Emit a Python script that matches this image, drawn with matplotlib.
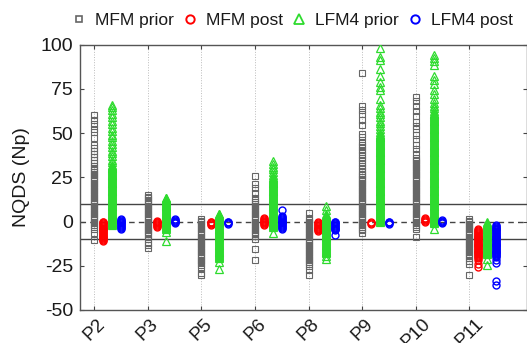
import matplotlib
matplotlib.use("Agg")
import matplotlib.pyplot as plt
from matplotlib.lines import Line2D

plt.rcParams['font.family'] = ['Liberation Sans', 'DejaVu Sans']

# ---------------- data ----------------
stations = ["P2", "P3", "P5", "P6", "P8", "P9", "P10", "P11"]
series_names = ["MFM prior", "MFM post", "LFM4 prior", "LFM4 post"]

# NQDS ensemble values (Np) per station
mfm_prior_P2 = [60, 57.5, 55, 52, 50.5, 47, 43, 41.5, 40, 38, 36.5, 35, 33, 31.5, 30, 29, 28, 27, 26, 25, 24, 23,
                22, 21, 20, 19, 18, 17, 16, 15, 14, 13, 12, 11, 10, 9, 8, 7, 6, 5, 4, 3, 2, 1, 0, -1, -2, -3, -4,
                -6.5, -10.5]
mfm_post_P2 = [0, -0.5, -1, -1.5, -2, -2.5, -3, -3.5, -4, -4.5, -5, -5.5, -6, -6.5, -7, -7.5, -8, -8.5, -9, -9.5,
               -10, -10.5, -11]
lfm4_prior_P2 = [66, 64.5, 63, 61, 59, 57, 55, 53, 51, 49, 47.5, 45.5, 44, 42, 40, 38.5, 37, 35, 33.5,
                 32, 31.5, 31, 30.5, 30, 29.5, 29, 28.5, 28, 27.5, 27, 26.5, 26, 25.5, 25, 24.5, 24, 23.5, 23,
                 22.5, 22, 21.5, 21, 20.5, 20, 19.5, 19, 18.5, 18, 17.5, 17, 16.5, 16, 15.5, 15, 14.5, 14, 13.5,
                 13, 12.5, 12, 11.5, 11, 10.5, 10, 9.5, 9, 8.5, 8, 7.5, 7, 6.5, 6, 5.5, 5, 4.5, 4, 3.5, 3, 2.5,
                 2, 1.5, 1, 0.5, 0, -0.5, -1, -1.5, -2]
lfm4_post_P2 = [1.5, 1, 0.5, 0, -0.5, -1, -1.5, -2, -2.5, -3, -3.5, -4]

mfm_prior_P3 = [15, 14, 13, 12, 11, 10, 9, 8, 7, 6, 5, 4, 3, 2, 1, 0, -1, -2, -3, -4, -5, -6, -7, -8,
                -10, -12, -13.5, -15]
mfm_post_P3 = [0.5, 0, -0.5, -1, -1.5, -2, -2.5, -3]
lfm4_prior_P3 = [13.5, 13, 12.5, 12, 11.5, 11, 10.5, 10, 9.5, 9, 8.5, 8, 7.5, 7, 6.5, 6, 5.5, 5, 4.5, 4, 3.5, 3,
                 2.5, 2, 1.5, 1, 0.5, 0, -0.5, -1, -1.5, -2, -2.5, -3, -3.5, -4, -6, -11]
lfm4_post_P3 = [1.5, 1, 0.5, 0, -0.5, -1]

mfm_prior_P5 = [1.5, 0.5, -0.5, -1.5, -2.5, -3.5, -4.5, -5.5, -6.5, -7.5, -8.5, -9.5, -10.5, -11.5, -12.5, -13.5,
                -14.5, -15.5, -16.5, -17.5, -18.5, -19.5, -20.5, -21.5, -22.5, -23.5, -24.5, -26, -29, -30.5]
mfm_post_P5 = [0, -0.5, -1, -1.5, -2]
lfm4_prior_P5 = [4.5, 4, 3.5, 3, 2.5, 2, 1.5, 1, 0.5, 0, -0.5, -1, -1.5, -2, -2.5, -3, -3.5, -4, -4.5, -5, -5.5,
                 -6, -6.5, -7, -7.5, -8, -8.5, -9, -9.5, -10, -10.5, -11, -11.5, -12, -12.5, -13, -13.5, -14,
                 -14.5, -15, -15.5, -16, -16.5, -17, -17.5, -18, -18.5, -19, -19.5, -20, -20.5, -23, -27]
lfm4_post_P5 = [0, -0.5, -1, -1.5]

mfm_prior_P6 = [25.5, 21, 19, 16, 13.5, 12, 11, 10, 9, 8, 7, 6, 5, 4, 3, 2, 1, 0, -1, -2, -3, -4, -5, -6, -7, -8,
                -10, -15.5, -22]
mfm_post_P6 = [2, 1.5, 1, 0.5, 0, -0.5, -1, -1.5, -2]
lfm4_prior_P6 = [34, 32.5, 31, 29.5, 28, 26.5, 25, 24.5, 24, 23.5, 23, 22.5, 22, 21.5, 21, 20.5, 20, 19.5, 19,
                 18.5, 18, 17.5, 17, 16.5, 16, 15.5, 15, 14.5, 14, 13.5, 13, 12.5, 12, 11.5, 11, 10.5, 10, 9.5, 9,
                 8.5, 8, 7.5, 7, 6.5, 6, 5.5, 5, 4.5, 4, 3.5, 3, 2.5, 2, 1.5, 1, 0.5, 0, -0.5, -1, -1.5, -2, -2.5,
                 -3, -6.5]
lfm4_post_P6 = [6.5, 3, 2.5, 2, 1.5, 1, 0.5, 0, -0.5, -1, -1.5, -2, -2.5, -3, -3.5, -4]

mfm_prior_P8 = [5, 2, 1, 0, -1, -2, -3, -4, -5, -6, -7, -8, -9, -10, -11, -12, -13, -14, -15, -16, -17, -18, -19,
                -20, -21, -22, -23, -24, -25, -27.5, -30]
mfm_post_P8 = [-0.5, -1, -1.5, -2, -2.5, -3, -3.5, -4, -4.5, -5, -5.5]
lfm4_prior_P8 = [9, 6.5, 4, 3.5, 3, 2.5, 2, 1.5, 1, 0.5, 0, -0.5, -1, -1.5, -2, -2.5, -3, -3.5, -4, -4.5, -5, -5.5,
                 -6, -6.5, -7, -7.5, -8, -8.5, -9, -9.5, -10, -10.5, -11, -11.5, -12, -12.5, -13, -13.5, -14,
                 -14.5, -15, -15.5, -16, -16.5, -17, -17.5, -18, -19.5, -21]
lfm4_post_P8 = [0, -0.5, -1, -1.5, -2, -2.5, -3, -3.5, -4, -4.5, -5, -7.5]

mfm_prior_P9 = [84, 65.5, 63, 60.5, 57.5, 54.5, 49.5, 47.5, 45, 43.5, 42, 40.5, 39, 37.5, 36, 34.5, 33, 31.5, 30,
                28.5, 27, 26, 25, 24, 23, 22, 21, 20, 19, 18, 17, 16, 15, 14, 13, 12, 11, 10, 9, 8, 7, 6, 5, 4,
                3, 2, 1, 0, -1, -2, -3, -4, -5, -6.5]
mfm_post_P9 = [-0.5, -1, -1.5]
lfm4_prior_P9 = [98, 93, 91.5, 86, 82, 79, 76, 74.5, 69, 66, 64, 62, 60.5, 59, 57, 55.5, 54, 52, 50.5,
                 49.5, 49, 48.5, 48, 47.5, 47, 46.5, 46, 45.5, 45, 44.5, 44, 43.5, 43, 42.5, 42, 41.5, 41, 40.5,
                 40, 39.5, 39, 38.5, 38, 37.5, 37, 36.5, 36, 35.5, 35, 34.5, 34, 33.5, 33, 32.5, 32, 31.5, 31,
                 30.5, 30, 29.5, 29, 28.5, 28, 27.5, 27, 26.5, 26, 25.5, 25, 24.5, 24, 23.5, 23, 22.5, 22, 21.5,
                 21, 20.5, 20, 19.5, 19, 18.5, 18, 17.5, 17, 16.5, 16, 15.5, 15, 14.5, 14, 13.5, 13, 12.5, 12,
                 11.5, 11, 10.5, 10, 9.5, 9, 8.5, 8, 7.5, 7, 6.5, 6, 5.5, 5, 4.5, 4, 3.5, 3, 2.5, 2, 1.5, 1, 0.5,
                 0]
lfm4_post_P9 = [0, -0.5, -1, -1.5]

mfm_prior_P10 = [70.5, 68, 65, 62.5, 59.5, 56, 54, 52, 49, 46.5, 43.5, 41, 38, 36, 35, 34, 33, 32, 31, 30, 29, 28,
                 27, 26, 25, 24, 23, 22, 21, 20, 19, 18, 17, 16, 15, 14, 13, 12, 11, 10, 9, 8, 7, 6, 5, 4, 3, 2,
                 1, 0, -1, -2, -3, -4.5, -8.5]
mfm_post_P10 = [2, 1.5, 1, 0.5, 0]
lfm4_prior_P10 = [94, 92.5, 90.5, 88.5, 82, 80, 77.5, 74.5, 72, 69, 67, 65.5, 64, 62.5,
                  61.5, 61, 60.5, 60, 59.5, 59, 58.5, 58, 57.5, 57, 56.5, 56, 55.5, 55, 54.5, 54, 53.5, 53, 52.5,
                  52, 51.5, 51, 50.5, 50, 49.5, 49, 48.5, 48, 47.5, 47, 46.5, 46, 45.5, 45, 44.5, 44, 43.5, 43,
                  42.5, 42, 41.5, 41, 40.5, 40, 39.5, 39, 38.5, 38, 37.5, 37, 36.5, 36, 35.5, 35, 34.5, 34, 33.5,
                  33, 32.5, 32, 31.5, 31, 30.5, 30, 29.5, 29, 28.5, 28, 27.5, 27, 26.5, 26, 25.5, 25, 24.5, 24,
                  23.5, 23, 22.5, 22, 21.5, 21, 20.5, 20, 19.5, 19, 18.5, 18, 17.5, 17, 16.5, 16, 15.5, 15, 14.5,
                  14, 13.5, 13, 12.5, 12, 11.5, 11, 10.5, 10, 9.5, 9, 8.5, 8, 7.5, 7, 6.5, 6, 5.5, 5, 4.5, 4, 3.5,
                  3, 2.5, 2, 1.5, 1, 0.5, 0, -0.5, -1, -4.5]
lfm4_post_P10 = [1, 0.5, 0, -0.5, -1]

mfm_prior_P11 = [1.5, 0.5, -0.5, -1.5, -2.5, -3.5, -4.5, -5.5, -6.5, -7.5, -8.5, -9.5, -10.5, -11.5, -12.5, -13.5,
                 -14.5, -15.5, -16.5, -17.5, -18.5, -19.5, -20.5, -22.5, -24, -30.5]
mfm_post_P11 = [-4.5, -5, -5.5, -6, -6.5, -7, -7.5, -8, -8.5, -9, -9.5, -10, -10.5, -11, -11.5, -12, -12.5, -13,
                -13.5, -14, -14.5, -15, -15.5, -16, -16.5, -17, -17.5, -18, -18.5, -19, -19.5, -20, -20.5, -22,
                -24, -25.5]
lfm4_prior_P11 = [-0.5, -1, -1.5, -2, -2.5, -3, -3.5, -4, -4.5, -5, -5.5, -6, -6.5, -7, -7.5, -8, -8.5, -9, -9.5,
                  -10, -10.5, -11, -11.5, -12, -12.5, -13, -13.5, -14, -14.5, -15, -15.5, -16, -16.5, -17, -17.5,
                  -18, -18.5, -21, -24.5]
lfm4_post_P11 = [-2, -2.5, -3, -3.5, -4, -4.5, -5, -5.5, -6, -6.5, -7, -7.5, -8, -8.5, -9, -9.5, -10, -10.5, -11,
                 -11.5, -12, -12.5, -13, -13.5, -14, -14.5, -15, -15.5, -16, -16.5, -17, -17.5, -18, -18.5, -19,
                 -19.5, -20, -21.5, -23.5, -33.5, -36]

mfm_prior = [mfm_prior_P2, mfm_prior_P3, mfm_prior_P5, mfm_prior_P6, mfm_prior_P8, mfm_prior_P9, mfm_prior_P10,
             mfm_prior_P11]
mfm_post = [mfm_post_P2, mfm_post_P3, mfm_post_P5, mfm_post_P6, mfm_post_P8, mfm_post_P9, mfm_post_P10,
            mfm_post_P11]
lfm4_prior = [lfm4_prior_P2, lfm4_prior_P3, lfm4_prior_P5, lfm4_prior_P6, lfm4_prior_P8, lfm4_prior_P9,
              lfm4_prior_P10, lfm4_prior_P11]
lfm4_post = [lfm4_post_P2, lfm4_post_P3, lfm4_post_P5, lfm4_post_P6, lfm4_post_P8, lfm4_post_P9, lfm4_post_P10,
             lfm4_post_P11]

yticks = [-50, -25, 0, 25, 50, 75, 100]

# ---------------- style ----------------
W, H = 527, 343
fig = plt.figure(figsize=(W / 100, H / 100), dpi=100)
ax_l, ax_r, ax_t, ax_b = 80, 526.5, 44.5, 310
ax = fig.add_axes([ax_l / W, (H - ax_b) / H, (ax_r - ax_l) / W, (ax_b - ax_t) / H])

styles = [
    dict(marker='s', ms=4.0, mec='#666666', mew=0.8),
    dict(marker='o', ms=5.0, mec='#ff0000', mew=1.0),
    dict(marker='^', ms=5.5, mec='#2edb2e', mew=0.9),
    dict(marker='o', ms=5.0, mec='#0000ff', mew=1.0),
]
offsets = [0.0, 0.17, 0.335, 0.5]
all_series = [mfm_prior, mfm_post, lfm4_prior, lfm4_post]

for si, (series, st, off) in enumerate(zip(all_series, styles, offsets)):
    for gi, vals in enumerate(series):
        ax.plot([gi + off] * len(vals), vals, linestyle='none', mfc='none', zorder=3, **st)

# reference lines
ax.axhline(10, color='#444444', lw=1.0, zorder=2)
ax.axhline(-10, color='#444444', lw=1.0, zorder=2)
ax.axhline(0, color='#444444', lw=1.0, ls=(0, (4, 3)), zorder=2)

ax.set_xlim(-0.267, 8.07)
ax.set_ylim(-50, 100)
ax.set_xticks(range(len(stations)))
ax.set_xticklabels(stations, rotation=45, ha='center', fontsize=13.5)
ax.set_yticks(yticks)
ax.set_yticklabels([str(v) for v in yticks], fontsize=14)
ax.xaxis.grid(True, ls=':', color='#bbbbbb', lw=0.7)
ax.set_axisbelow(True)
ax.tick_params(axis='both', direction='in', length=3, width=0.8, color='#444444',
               top=True, right=True, labelcolor='#1a1a1a')
ax.tick_params(axis='x', pad=4)
ax.tick_params(axis='y', pad=5)
for sp in ax.spines.values():
    sp.set_color('#555555')
    sp.set_linewidth(1.0)

ax.set_ylabel("NQDS (Np)", fontsize=14, color='#1a1a1a')
ax.yaxis.set_label_coords(-0.112, 0.5)

# legend
handles = [Line2D([], [], linestyle='none', mfc='none', marker=st['marker'], ms=st['ms'] + 1,
                  mec=st['mec'], mew=st['mew'] + 0.4) for st in styles]
fig.legend(handles, series_names, loc='center left', bbox_to_anchor=(74 / W, 1 - 20.5 / H),
           ncol=4, frameon=False, fontsize=12.5, handlelength=0.6, handletextpad=0.62,
           columnspacing=0.62, borderpad=0, borderaxespad=0, labelcolor='#1a1a1a')

fig.savefig("out.png", dpi=100)
